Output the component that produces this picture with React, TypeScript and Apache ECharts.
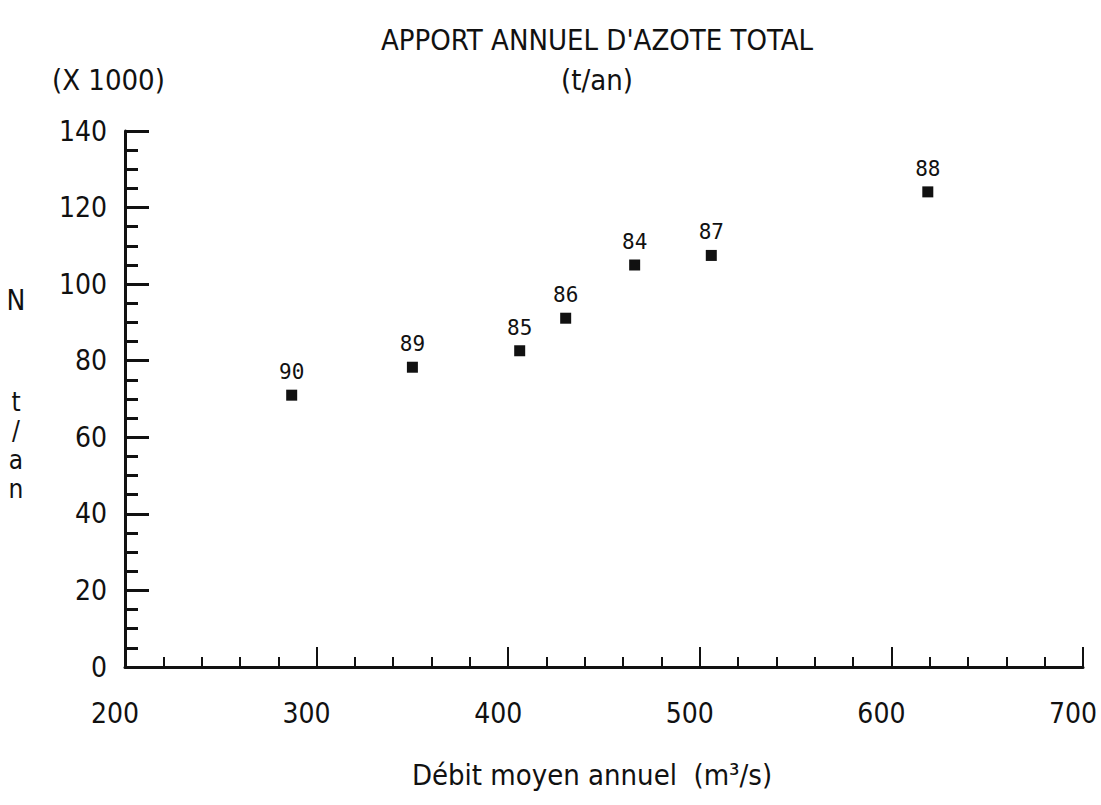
import React, { useEffect, useRef } from "react";
import * as echarts from "echarts";

const years = ["90", "89", "85", "86", "84", "87", "88"];
const debit = [287, 350, 406, 430, 466, 506, 619];
const azote = [71.0, 78.3, 82.6, 91.1, 105.0, 107.5, 124.1];

const xTicks = [200, 700, 100];
const yTicks = [0, 140, 20];

const FONT = "'DejaVu Sans Condensed', 'Liberation Sans Narrow', sans-serif";

export default function App() {
  const ref = useRef<HTMLDivElement>(null);
  useEffect(() => {
    if (!ref.current) return;
    const chart = echarts.init(ref.current, null, { renderer: "svg" });
    const data = debit.map((d, i) => [d, azote[i], years[i]]);
    chart.setOption({
      animation: false,
      backgroundColor: "#ffffff",
      grid: { left: 125, right: 18, top: 131, bottom: 138 },
      xAxis: {
        type: "value",
        min: xTicks[0],
        max: xTicks[1],
        interval: xTicks[2],
        axisLine: { show: true, onZero: false, lineStyle: { color: "#111", width: 3 } },
        axisTick: { show: true, inside: true, length: 20, lineStyle: { color: "#111", width: 2 } },
        minorTick: { show: true, splitNumber: 5, length: 10, lineStyle: { color: "#111", width: 2 } },
        splitLine: { show: false },
        axisLabel: {
          color: "#111",
          fontFamily: FONT,
          fontSize: 28,
          margin: 32,
          padding: [0, 20, 0, 0],
        },
      },
      yAxis: {
        type: "value",
        min: yTicks[0],
        max: yTicks[1],
        interval: yTicks[2],
        axisLine: { show: true, onZero: false, lineStyle: { color: "#111", width: 3 } },
        axisTick: { show: true, inside: true, length: 24, lineStyle: { color: "#111", width: 3 } },
        minorTick: { show: true, splitNumber: 4, length: 13, lineStyle: { color: "#111", width: 3 } },
        splitLine: { show: false },
        axisLabel: {
          color: "#111",
          fontFamily: FONT,
          fontSize: 28,
          margin: 18,
        },
      },
      graphic: [
        {
          type: "text",
          x: 597,
          y: 40,
          style: {
            text: "APPORT ANNUEL D'AZOTE TOTAL",
            fill: "#111",
            font: `29px ${FONT}`,
            align: "center",
            verticalAlign: "middle",
          },
        },
        {
          type: "text",
          x: 597,
          y: 80,
          style: { text: "(t/an)", fill: "#111", font: `29px ${FONT}`, align: "center", verticalAlign: "middle" },
        },
        {
          type: "text",
          x: 52,
          y: 80,
          style: { text: "(X 1000)", fill: "#111", font: `29px ${FONT}`, align: "left", verticalAlign: "middle" },
        },
        {
          type: "text",
          x: 16,
          y: 300,
          style: { text: "N", fill: "#111", font: `28px ${FONT}`, align: "center", verticalAlign: "middle" },
        },
        {
          type: "text",
          x: 16,
          y: 445,
          style: {
            text: "t\n/\na\nn",
            fill: "#111",
            font: `26px ${FONT}`,
            lineHeight: 29,
            align: "center",
            verticalAlign: "middle",
          },
        },
        {
          type: "text",
          x: 592,
          y: 775,
          style: {
            text: "Débit moyen annuel  (m³/s)",
            fill: "#111",
            font: `29px ${FONT}`,
            align: "center",
            verticalAlign: "middle",
          },
        },
      ],
      series: [
        {
          type: "scatter",
          data,
          symbol: "rect",
          symbolSize: 11,
          itemStyle: { color: "#111", opacity: 1 },
          label: {
            show: true,
            position: "top",
            distance: 7,
            formatter: (p: any) => p.data[2],
            fontFamily: "'DejaVu Sans Mono', monospace",
            fontSize: 21,
            color: "#111",
          },
        },
      ],
    });
    return () => chart.dispose();
  }, []);
  return (
    <div
      ref={ref}
      style={{ position: "absolute", left: 0, top: 0, width: 1101, height: 805 }}
    />
  );
}
